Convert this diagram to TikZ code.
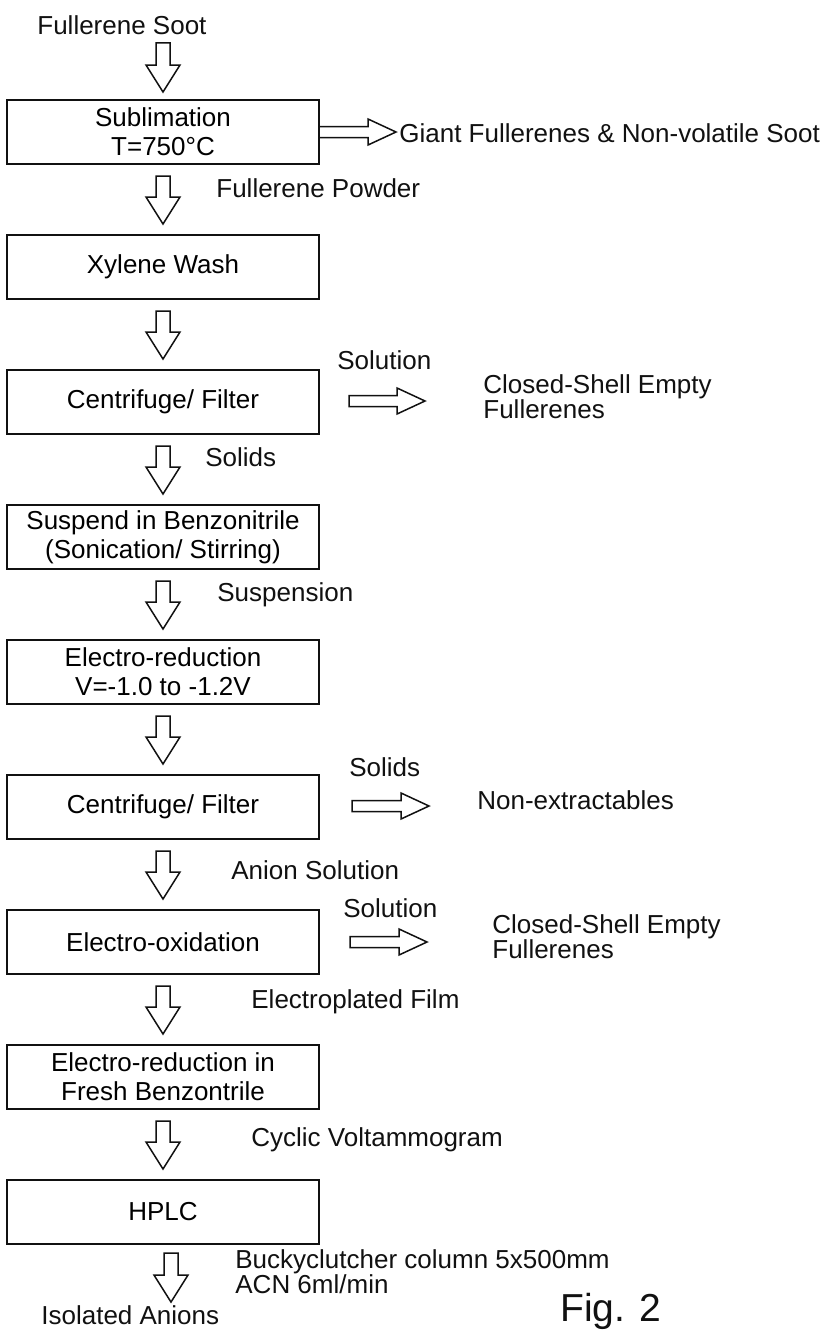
\documentclass[tikz,border=0pt]{standalone}
\usepackage{fontspec}
\setmainfont{Liberation Sans}
\usepackage{xcolor}
\usepackage{tikz}
\usetikzlibrary{positioning, arrows.meta, calc}
\definecolor{inkblack}{HTML}{111111}

\tikzset{
  procbox/.style={draw=inkblack, line width=1pt, minimum width=156pt, minimum height=32pt,
                  inner sep=2pt, outer sep=0pt, align=center, font=\fontsize{13}{14.5}\selectfont},
  flowlabel/.style={inner sep=0pt, anchor=west, align=left, text=inkblack,
                    font=\fontsize{13}{12.5}\selectfont},
  fatarrow/.style={draw=inkblack, line width=0.75pt, line join=miter},
}

\newcommand{\downfat}[2]{%
  \draw[fatarrow] let \p1=#1, \p2=#2 in
    (\x1-3.5pt,\y1) -- (\x1+3.5pt,\y1) -- (\x1+3.5pt,\y2+13.5pt) -- (\x1+8.5pt,\y2+13.5pt)
    -- (\x1,\y2) -- (\x1-8.5pt,\y2+13.5pt) -- (\x1-3.5pt,\y2+13.5pt) -- cycle;}
\newcommand{\rightfat}[2]{%
  \draw[fatarrow] let \p1=#1, \p2=#2 in
    (\x1,\y1-2.75pt) -- (\x1,\y1+2.75pt) -- (\x2-14pt,\y1+2.75pt) -- (\x2-14pt,\y1+6.5pt)
    -- (\x2,\y1) -- (\x2-14pt,\y1-6.5pt) -- (\x2-14pt,\y1-2.75pt) -- cycle;}

\begin{document}
\begin{tikzpicture}[x=0.5pt, y=-0.5pt]
  \path[use as bounding box, fill=white] (0,0) rectangle (828,1333);

  \node[flowlabel] (soot) at (37,25) {Fullerene Soot};

  \node[procbox] (sub) at (163,132) {Sublimation\\T=750°C};
  \node[procbox, below=35.5pt of sub] (xyl) {Xylene Wash};
  \node[procbox, below=35.5pt of xyl] (cen1) {Centrifuge/ Filter};
  \node[procbox, below=35.5pt of cen1] (susp) {Suspend in Benzonitrile\\(Sonication/ Stirring)};
  \node[procbox, below=35.5pt of susp] (ered) {Electro-reduction\\V=-1.0 to -1.2V};
  \node[procbox, below=35.5pt of ered] (cen2) {Centrifuge/ Filter};
  \node[procbox, below=35.5pt of cen2] (eox) {Electro-oxidation};
  \node[procbox, below=35.5pt of eox] (ered2) {Electro-reduction in\\Fresh Benzontrile};
  \node[procbox, below=35.5pt of ered2] (hplc) {HPLC};

  \node[flowlabel] (iso) at (41,1315) {Isolated Anions};

  \node[flowlabel] (powder) at (216,188) {Fullerene Powder};
  \node[flowlabel] (solids) at (205,457) {Solids};
  \node[flowlabel] (suspn) at (217,595) {Suspension};
  \node[flowlabel] (anion) at (231,870) {Anion Solution};
  \node[flowlabel] (plated) at (251,1002) {Electroplated Film};
  \node[flowlabel] (cyclic) at (251,1140) {Cyclic Voltammogram};
  \node[flowlabel] (bucky) at (235,1272) {Buckyclutcher column 5x500mm\\ACN 6ml/min};

  \node[flowlabel] (giant) at (399,133) {Giant Fullerenes \& Non-volatile Soot};
  \node[flowlabel] (sol1) at (337,360) {Solution};
  \node[flowlabel] (closed1) at (483,397) {Closed-Shell Empty\\Fullerenes};
  \node[flowlabel] (sol2) at (349,767) {Solids};
  \node[flowlabel] (nonext) at (477,800) {Non-extractables};
  \node[flowlabel] (sol3) at (343,908) {Solution};
  \node[flowlabel] (closed2) at (492,937) {Closed-Shell Empty\\Fullerenes};

  \node[anchor=north west, inner sep=0pt, text=inkblack, font=\fontsize{19.5}{20}\selectfont] (fig) at (560,1293) {Fig. 2};

  \downfat{($(soot.south -| sub.north)+(0pt,-4pt)$)}{($(sub.north)+(0pt,4pt)$)}
  \downfat{($(sub.south)+(0pt,-6pt)$)}{($(xyl.north)+(0pt,5.5pt)$)}
  \downfat{($(xyl.south)+(0pt,-6pt)$)}{($(cen1.north)+(0pt,5.5pt)$)}
  \downfat{($(cen1.south)+(0pt,-6pt)$)}{($(susp.north)+(0pt,5.5pt)$)}
  \downfat{($(susp.south)+(0pt,-6pt)$)}{($(ered.north)+(0pt,5.5pt)$)}
  \downfat{($(ered.south)+(0pt,-6pt)$)}{($(cen2.north)+(0pt,5.5pt)$)}
  \downfat{($(cen2.south)+(0pt,-6pt)$)}{($(eox.north)+(0pt,5.5pt)$)}
  \downfat{($(eox.south)+(0pt,-6pt)$)}{($(ered2.north)+(0pt,5.5pt)$)}
  \downfat{($(ered2.south)+(0pt,-6pt)$)}{($(hplc.north)+(0pt,5.5pt)$)}
  \downfat{($(hplc.south)+(4pt,-4.5pt)$)}{($(iso.north -| hplc.south)+(4pt,1.5pt)$)}

  \rightfat{(sub.east)}{($(giant.west)+(-1.5pt,0pt)$)}
  \rightfat{($(cen1.east)+(15pt,0.5pt)$)}{($(closed1.west)+(-29pt,0pt)$)}
  \rightfat{($(cen2.east)+(16.5pt,0.5pt)$)}{($(nonext.west)+(-24pt,0pt)$)}
  \rightfat{($(eox.east)+(15.5pt,0pt)$)}{($(closed2.west)+(-32.5pt,0pt)$)}
\end{tikzpicture}
\end{document}
